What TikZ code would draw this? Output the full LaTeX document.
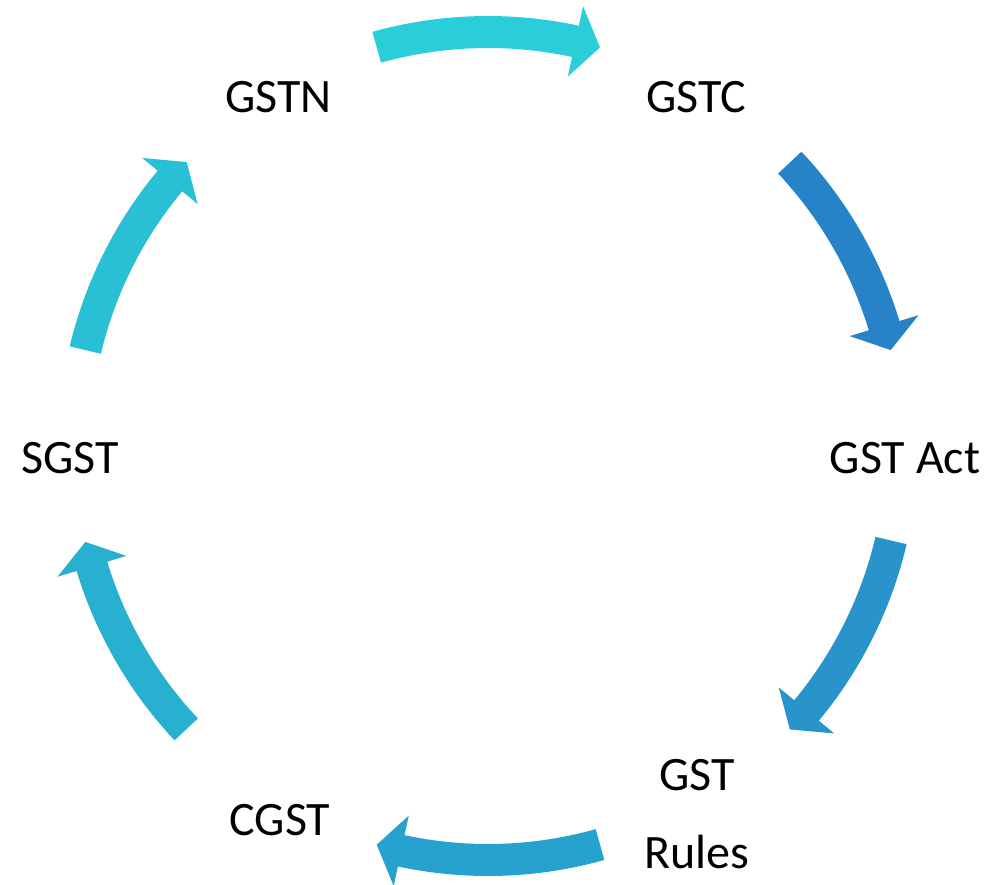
\documentclass[tikz,border=0pt]{standalone}
\usepackage{fontspec}
\setmainfont{Carlito}
\definecolor{cA}{HTML}{29CED8}
\definecolor{cB}{HTML}{2783C8}
\definecolor{cC}{HTML}{2894CB}
\definecolor{cD}{HTML}{27A2CE}
\definecolor{cE}{HTML}{27B0D0}
\definecolor{cF}{HTML}{29BFD5}
\newcommand{\cycarrow}[3]{%
  \pgfmathsetmacro{\hh}{#2+3.5}%
  \fill[#3] (#1:430) arc[start angle=#1, end angle=\hh, radius=430]
    -- (\hh:450) -- (#2:414) -- (\hh:378) -- (\hh:398)
    arc[start angle=\hh, end angle=#1, radius=398] -- cycle;}
\begin{document}
\begin{tikzpicture}[x=1pt,y=1pt,
  lbl/.style={font=\fontsize{48}{78}\selectfont, inner sep=0pt, anchor=base, text=black, align=center}]
\useasboundingbox (0,0) rectangle (992,-885);
\node[lbl] (gstn) at (278.5,-113) {GSTN};
\node[lbl] (gstc) at (696,-113) {GSTC};
\node[lbl] (act) at (905,-473) {GST Act};
\node[lbl] (rules) at (697,-868) {GST\\Rules};
\node[lbl] (cgst) at (280,-835) {CGST};
\node[lbl] (sgst) at (70,-473) {SGST};
\begin{scope}[shift={(488,-446)}]
  \cycarrow{105.6}{74.3}{cA}
  \cycarrow{43.2}{13.4}{cB}
  \cycarrow{-13.2}{-43.2}{cC}
  \cycarrow{-74.3}{-105.6}{cD}
  \cycarrow{-136.8}{-166.6}{cE}
  \cycarrow{166.6}{136.7}{cF}
\end{scope}
\end{tikzpicture}
\end{document}
